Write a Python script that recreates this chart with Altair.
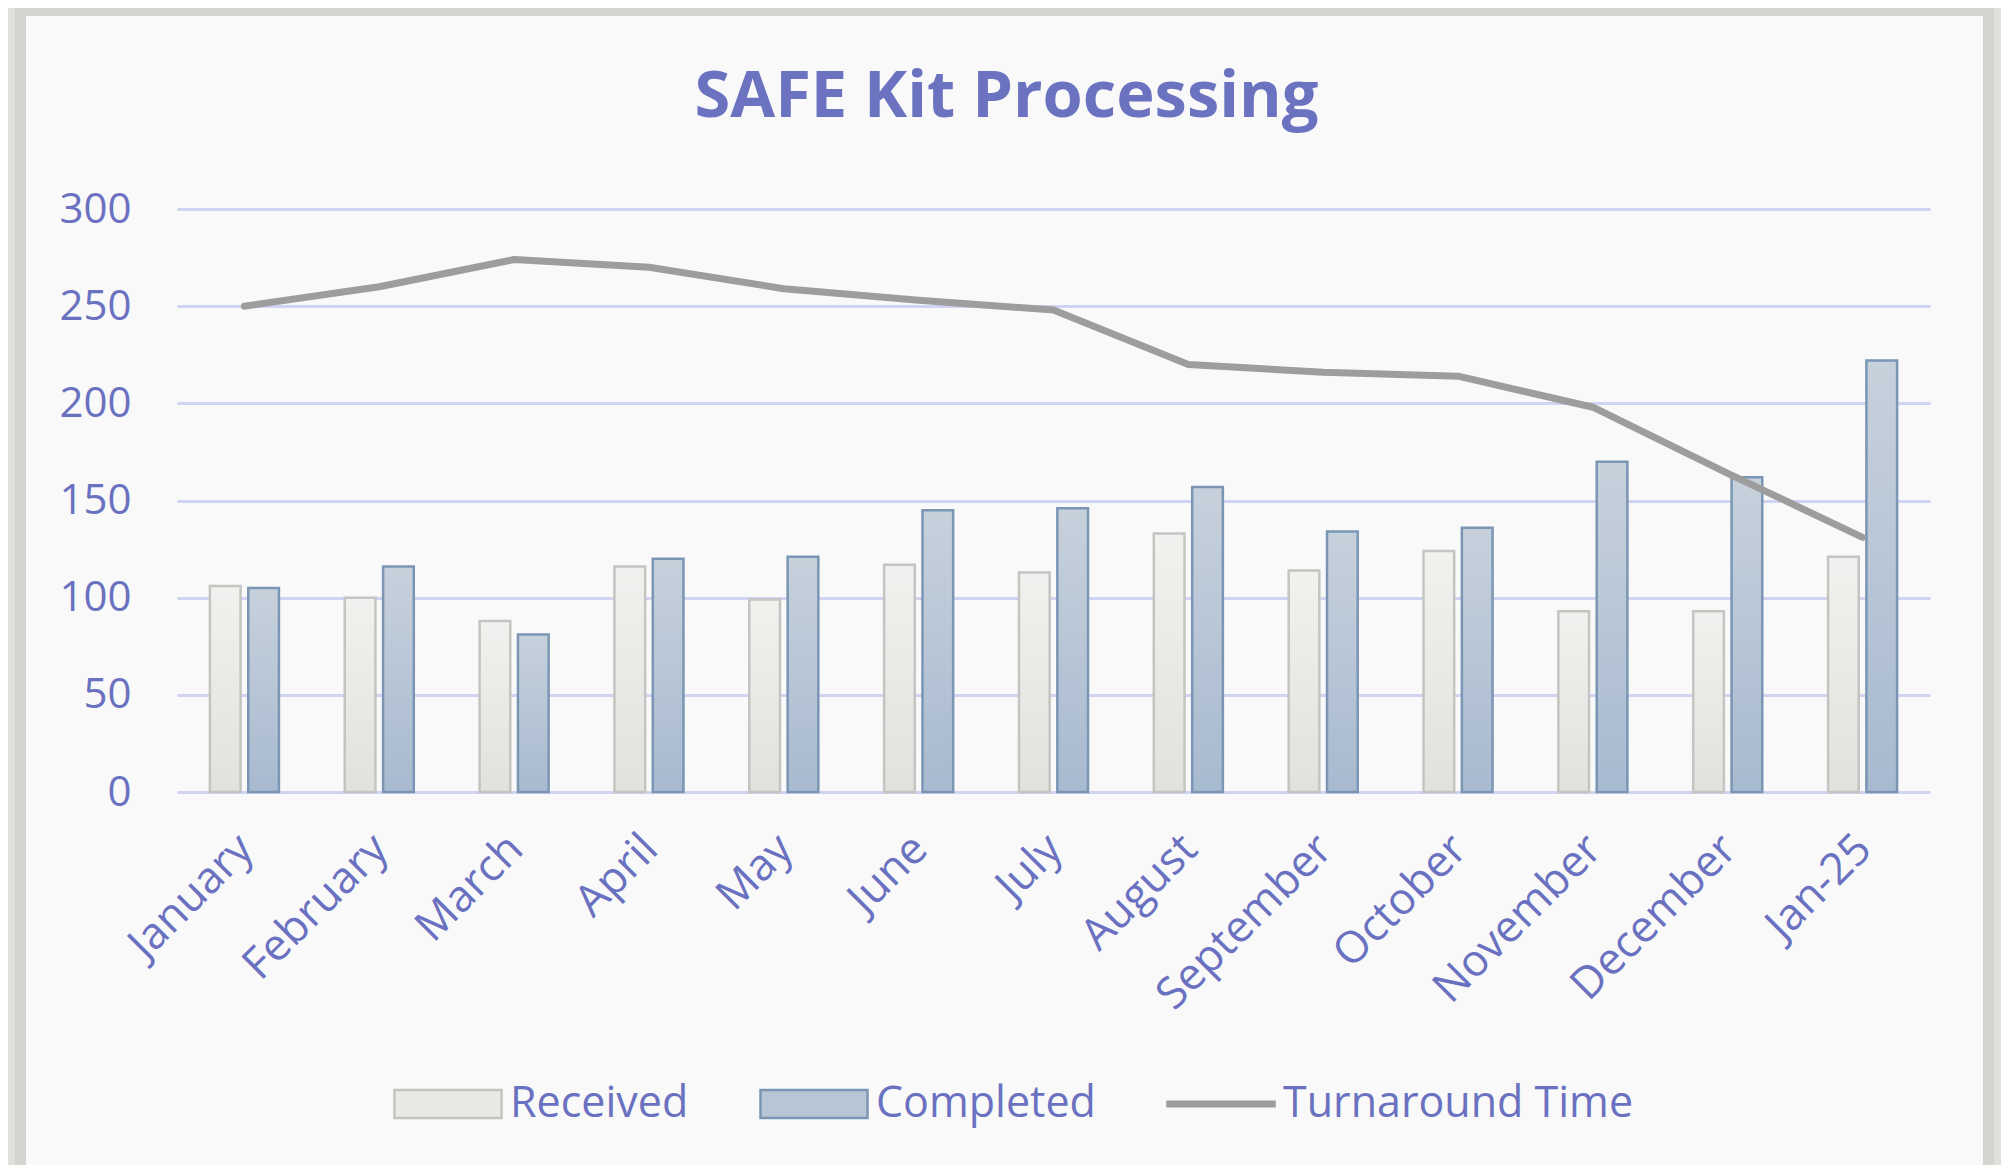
import altair as alt
import pandas as pd

months = ["January", "February", "March", "April", "May", "June", "July",
          "August", "September", "October", "November", "December", "Jan-25"]
received = [106, 100, 88, 116, 99, 117, 113, 133, 114, 124, 93, 93, 121]
completed = [105, 116, 81, 120, 121, 145, 146, 157, 134, 136, 170, 162, 222]
turnaround = [250, 260, 274, 270, 259, 253, 248, 220, 216, 214, 198, 164, 131]
series_names = ["Received", "Completed", "Turnaround Time"]
y_ticks = [0, 50, 100, 150, 200, 250, 300]

rows = []
for m, r, c, t in zip(months, received, completed, turnaround):
    rows.append({"month": m, "series": "Received", "value": r})
    rows.append({"month": m, "series": "Completed", "value": c})
    rows.append({"month": m, "series": "Turnaround Time", "value": t})
df = pd.DataFrame(rows)

FONT = "Open Sans"
TXT = "#6a71c0"
W, H = 1753, 583

x_enc = alt.X(
    "month:N", sort=months, title=None,
    scale=alt.Scale(paddingInner=0.488, paddingOuter=0.244),
    axis=alt.Axis(labelAngle=-45, labelAlign="right", labelBaseline="middle",
                  labelFont=FONT, labelFontSize=44, labelColor=TXT,
                  labelPadding=50, labelOffset=2, domain=False, ticks=False,
                  grid=False, labelOverlap=False, labelLimit=0),
)
y_enc = alt.Y(
    "value:Q", title=None,
    scale=alt.Scale(domain=[0, 300], nice=False),
    axis=alt.Axis(values=y_ticks, labelFont=FONT, labelFontSize=42,
                  labelColor=TXT, labelPadding=46, domain=False, ticks=False,
                  grid=True, gridColor="#d0d3f1", gridWidth=3),
)
xoff = alt.XOffset("series:N", scale=alt.Scale(domain=["Received", "Completed"],
                                               paddingInner=0.2, paddingOuter=0))

deco = pd.DataFrame({"k": [0]})
tex_left = alt.Chart(deco).mark_rect(fill="#dfe0dc").encode(
    x=alt.value(-177), x2=alt.value(-162), y=alt.value(-201), y2=alt.value(1000))
tex_right = alt.Chart(deco).mark_rect(fill="#dfe0dc").encode(
    x=alt.value(1817), x2=alt.value(1832), y=alt.value(-201), y2=alt.value(1000))
frame = alt.Chart(deco).mark_rect(filled=False, stroke="#d3d4cf", strokeWidth=11).encode(
    x=alt.value(-156.5), x2=alt.value(1811.5), y=alt.value(-198.5), y2=alt.value(1000))

grad_r = alt.Gradient(gradient="linear", x1=0, x2=0, y1=0, y2=1, stops=[
    alt.GradientStop(color="#f1f1ef", offset=0), alt.GradientStop(color="#e1e1de", offset=1)])
grad_c = alt.Gradient(gradient="linear", x1=0, x2=0, y1=0, y2=1, stops=[
    alt.GradientStop(color="#c7d1dc", offset=0), alt.GradientStop(color="#a8bad0", offset=1)])

bars_r = alt.Chart(df).transform_filter(alt.datum.series == "Received").mark_bar(
    fill=grad_r, stroke="#c4c5c0", strokeWidth=2.5).encode(x=x_enc, y=y_enc, xOffset=xoff)
bars_c = alt.Chart(df).transform_filter(alt.datum.series == "Completed").mark_bar(
    fill=grad_c, stroke="#7b96b4", strokeWidth=2.5).encode(x=x_enc, y=y_enc, xOffset=xoff)

line = alt.Chart(df).transform_filter(alt.datum.series == "Turnaround Time").mark_line(
    color="#9d9d9d", strokeWidth=7, strokeCap="round", strokeJoin="round").encode(x=x_enc, y=y_enc)

rect_path = "M-1,-0.262L1,-0.262L1,0.262L-1,0.262Z"
line_path = "M-1,-0.042L1,-0.042L1,0.042L-1,0.042Z"
# legend-only layer: no rows drawn, scales carry explicit domains
legend_pts = alt.Chart(df).transform_filter("datum.value < 0").mark_point(filled=True).encode(
    x=x_enc, y=y_enc,
    fill=alt.Fill("series:N", scale=alt.Scale(domain=series_names,
                                              range=["#e8e8e5", "#b8c5d4", "#9d9d9d"]),
                  legend=alt.Legend(title=None)),
    stroke=alt.Stroke("series:N", scale=alt.Scale(domain=series_names,
                                                  range=["#c4c5c0", "#7b96b4", "#9d9d9d"]),
                      legend=alt.Legend(title=None)),
    shape=alt.Shape("series:N", scale=alt.Scale(domain=series_names,
                                                range=[rect_path, rect_path, line_path]),
                    legend=alt.Legend(title=None)),
)

chart = alt.layer(tex_left, tex_right, frame, bars_r, bars_c, line, legend_pts).properties(
    width=W, height=H,
    title=alt.TitleParams("SAFE Kit Processing", font=FONT, fontSize=65, fontWeight="bold",
                          color="#6b72c0", anchor="middle", frame="group", dx=-47,
                          baseline="alphabetic", offset=0, dy=177),
    autosize=alt.AutoSizeParams(type="none"),
    padding={"left": 169, "top": 201, "right": 71, "bottom": 373},
    background="#f9f9f9",
).configure_view(stroke=None).configure_legend(
    orient="none", legendX=216, legendY=840, direction="horizontal", padding=0,
    symbolSize=11449, symbolStrokeWidth=2.5, symbolOpacity=1, labelFont=FONT,
    labelFontSize=43, labelColor=TXT, labelOffset=7, columnPadding=66, labelLimit=0,
)

chart.save("out.html", embed_options={"renderer": "svg", "actions": False})
